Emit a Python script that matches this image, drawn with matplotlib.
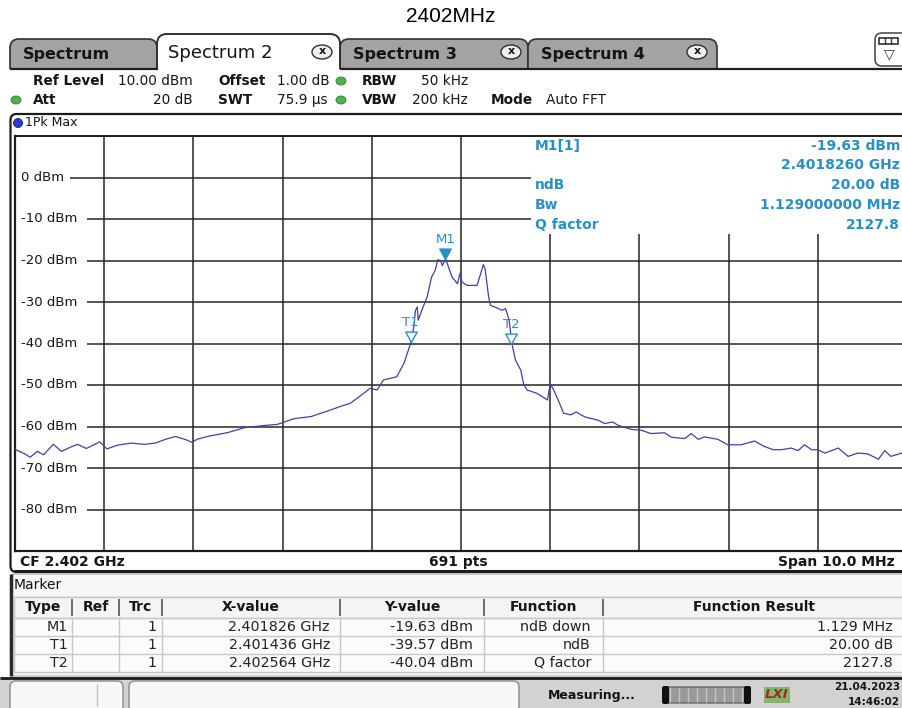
import matplotlib
matplotlib.use("Agg")
import matplotlib.pyplot as plt
from matplotlib.patches import Rectangle, FancyBboxPatch, Ellipse
import numpy as np

W, H = 902, 708

# ---------------- data ----------------
title = "2402MHz"
tab_names = ["Spectrum", "Spectrum 2", "Spectrum 3", "Spectrum 4"]

setting_labels = ["Ref Level", "Offset", "RBW", "Att", "SWT", "VBW", "Mode"]
setting_values = ["10.00 dBm", "1.00 dB", "50 kHz", "20 dB", "75.9 µs", "200 kHz", "Auto FFT"]
trace_label = "1Pk Max"

center_mhz = 2402.0
span_mhz = 10.0
ref_level_dbm = 10.0
db_per_div = 10.0
n_points = 691
y_tick_values = [0, -10, -20, -30, -40, -50, -60, -70, -80]

freq_mhz = [
    2397.00, 2397.10, 2397.17, 2397.25, 2397.32, 2397.43, 2397.52, 2397.62, 2397.70, 2397.80,
    2397.95, 2398.03, 2398.15, 2398.30, 2398.45, 2398.57, 2398.70, 2398.80, 2398.92, 2398.98,
    2399.05, 2399.20, 2399.38, 2399.57, 2399.77, 2399.94, 2400.13, 2400.32, 2400.50, 2400.67,
    2400.76, 2400.91, 2400.98, 2401.06, 2401.13, 2401.28, 2401.36, 2401.41, 2401.44, 2401.47,
    2401.49, 2401.51, 2401.52, 2401.56, 2401.62, 2401.67, 2401.71, 2401.74, 2401.77, 2401.79,
    2401.83, 2401.86, 2401.90, 2401.96, 2401.99, 2402.01, 2402.07, 2402.18, 2402.22, 2402.25,
    2402.27, 2402.31, 2402.33, 2402.40, 2402.46, 2402.50, 2402.54, 2402.57, 2402.61, 2402.67,
    2402.70, 2402.74, 2402.85, 2402.97, 2403.00, 2403.04, 2403.12, 2403.15, 2403.23, 2403.29,
    2403.39, 2403.54, 2403.61, 2403.70, 2403.76, 2403.91, 2404.02, 2404.13, 2404.28, 2404.36,
    2404.51, 2404.58, 2404.66, 2404.73, 2404.88, 2404.99, 2405.14, 2405.29, 2405.40, 2405.50,
    2405.59, 2405.70, 2405.78, 2405.85, 2405.93, 2406.00, 2406.08, 2406.23, 2406.34, 2406.45,
    2406.56, 2406.68, 2406.75, 2406.82, 2406.94, 2407.00,
]
level_dbm = [
    -65.5, -66.5, -67.4, -66.0, -66.8, -64.3, -66.0, -65.0, -64.3, -65.3,
    -63.7, -65.4, -64.5, -64.0, -64.3, -64.0, -63.0, -62.4, -63.2, -63.8,
    -63.0, -62.2, -61.5, -60.3, -59.8, -59.5, -58.1, -57.6, -56.3, -55.0,
    -54.4, -52.0, -50.8, -51.2, -48.8, -48.0, -44.8, -41.6, -39.6, -36.0,
    -32.0, -31.2, -34.4, -32.0, -28.8, -24.0, -22.4, -19.8, -20.0, -21.2,
    -19.63, -21.6, -24.0, -25.6, -23.0, -25.2, -26.0, -26.0, -23.2, -21.0,
    -22.0, -28.8, -30.8, -31.4, -32.0, -31.6, -34.4, -40.0, -44.0, -46.4,
    -49.6, -51.2, -52.0, -53.6, -49.8, -51.2, -55.2, -56.8, -57.2, -56.5,
    -57.7, -58.5, -59.3, -58.9, -59.7, -60.7, -60.9, -61.7, -61.5, -62.6,
    -62.9, -61.7, -63.1, -62.5, -63.1, -64.4, -64.4, -63.5, -64.8, -65.6,
    -65.6, -65.2, -65.8, -64.4, -65.6, -65.6, -66.4, -65.2, -67.2, -66.4,
    -66.6, -67.9, -65.8, -67.2, -66.4, -66.8,
]
assert len(freq_mhz) == len(level_dbm)

marker_names = ["M1", "T1", "T2"]
marker_freq_mhz = [2401.826, 2401.436, 2402.564]
marker_level_dbm = [-19.63, -39.57, -40.04]
marker_filled = [True, False, False]

info_labels = ["M1[1]", "", "ndB", "Bw", "Q factor"]
info_values = ["-19.63 dBm", "2.4018260 GHz", "20.00 dB", "1.129000000 MHz", "2127.8"]

table_header = ["Type", "Ref", "Trc", "X-value", "Y-value", "Function", "Function Result"]
table_rows = [
    ["M1", "", "1", "2.401826 GHz", "-19.63 dBm", "ndB down", "1.129 MHz"],
    ["T1", "", "1", "2.401436 GHz", "-39.57 dBm", "ndB", "20.00 dB"],
    ["T2", "", "1", "2.402564 GHz", "-40.04 dBm", "Q factor", "2127.8"],
]
status_text = "Measuring..."
date_text = "21.04.2023"
time_text = "14:46:02"

# ---------------- styling ----------------
FONT = "DejaVu Sans"
TXT = "#151515"
MK = "#2a8fc4"
TRACE = "#4040a8"
GRID = "#262626"

fig = plt.figure(figsize=(W / 100, H / 100), dpi=100)
fig.patch.set_facecolor("white")


def pix_axes(z):
    a = fig.add_axes([0, 0, 1, 1], zorder=z)
    a.set_xlim(0, W)
    a.set_ylim(H, 0)
    a.axis("off")
    a.patch.set_alpha(0)
    return a


bg = pix_axes(0)
fg = pix_axes(3)


def box(a, x0, y0, x1, y1, fc, ec="none", lw=1.0, r=0, z=1):
    if r > 0:
        p = FancyBboxPatch((x0, y0), x1 - x0, y1 - y0,
                           boxstyle=f"round,pad=0,rounding_size={r}",
                           fc=fc, ec=ec, lw=lw, zorder=z)
    else:
        p = Rectangle((x0, y0), x1 - x0, y1 - y0, fc=fc, ec=ec, lw=lw, zorder=z)
    a.add_patch(p)


def line(a, xs, ys, color=GRID, lw=1.0, z=2):
    a.plot(xs, ys, color=color, lw=lw, zorder=z, solid_capstyle="butt")


def T(a, x, y, s, size=9.5, weight="normal", ha="left", va="center",
      color=TXT, family=FONT, **kw):
    a.text(x, y, s, fontsize=size, fontweight=weight, ha=ha, va=va,
           color=color, family=family, **kw)


# ---------------- title ----------------
T(fg, 451, 17, title, size=15, ha="center", family="Liberation Sans", color="#000000")

# ---------------- tabs ----------------
tab_x = [(10, 157), (157, 340), (340, 528), (528, 717)]
tab_close = [None, 322, 511, 697]
for i, (x0, x1) in enumerate(tab_x):
    if i == 1:
        continue
    box(bg, x0, 39, x1, 85, fc="#a3a3a3", ec="#303030", lw=1.2, r=9, z=1)
box(bg, 157, 34, 340, 85, fc="white", ec="#303030", lw=1.4, r=10, z=1.5)
# header area (covers tab bottoms)
box(bg, 0, 69, W, 113, fc="white", z=2)
line(bg, [10, 157.5], [68.5, 68.5], "#202020", 1.6, 3)
line(bg, [339.5, W], [68.5, 68.5], "#202020", 1.6, 3)
for i, (x0, x1) in enumerate(tab_x):
    if i == 1:
        T(fg, 168, 53, tab_names[i], size=13, weight="normal")
    else:
        T(fg, x0 + 13, 54, tab_names[i], size=11.5, weight="bold")
    if tab_close[i] is not None:
        fg.add_patch(Ellipse((tab_close[i], 52), 20, 14, fc="#eeeeee", ec="#303030", lw=1.0, zorder=4))
        T(fg, tab_close[i], 51.5, "x", size=8, weight="bold", ha="center", zorder=5)
# menu icon at right
box(bg, 875, 33, 912, 66, fc="white", ec="#505050", lw=1.2, r=7, z=3)
box(fg, 879, 38, 898, 44, fc="white", ec="#303030", lw=1.2)
for xx in (885, 891):
    line(fg, [xx, xx], [38, 44], "#303030", 1.0, 5)
T(fg, 889, 54, "▽", size=10, ha="center", color="#303030")

# ---------------- settings header ----------------
lab_pos = [(33, 81), (218, 81), (362, 81), (33, 100), (218, 100), (362, 100), (491, 100)]
for (lx, ly), s in zip(lab_pos, setting_labels):
    T(fg, lx, ly, s, size=9.8, weight="bold")
val_pos = [(118, 81, "left"), (277, 81, "left"), (468, 81, "right"),
           (193, 100, "right"), (277, 100, "left"), (468, 100, "right"), (546, 100, "left")]
for (vx, vy, ha), s in zip(val_pos, setting_values):
    T(fg, vx, vy, s, size=9.8, ha=ha)
for (dx, dy) in [(341, 81), (16, 100), (341, 100)]:
    fg.add_patch(Ellipse((dx, dy), 10, 8, fc="#4fb04f", ec="#2f7f2f", lw=0.6, zorder=4))

# ---------------- main panel ----------------
box(bg, 10.5, 114, 915, 572, fc="white", ec="#1c1c1c", lw=1.6, r=6, z=4)
line(bg, [14, W], [571.2, 571.2], "#1c1c1c", 2.2, 5)
fg.add_patch(Ellipse((18, 123), 9, 9, fc="#2a3fcf", ec="#101a70", lw=0.6, zorder=4))
T(fg, 25, 123, trace_label, size=9)

ax = fig.add_axes([15 / W, 1 - 551 / H, 892 / W, (551 - 136) / H], zorder=1)
ax.set_facecolor("white")
ax.set_xlim(center_mhz - span_mhz / 2, center_mhz + span_mhz / 2)
ax.set_ylim(ref_level_dbm - 10 * db_per_div, ref_level_dbm)
ax.set_xticks(np.linspace(center_mhz - span_mhz / 2, center_mhz + span_mhz / 2, 11))
ax.set_yticks(np.arange(ref_level_dbm - 10 * db_per_div, ref_level_dbm + 1, db_per_div))
ax.tick_params(length=0, labelbottom=False, labelleft=False)
ax.set_axisbelow(True)
ax.grid(True, color=GRID, lw=1.1)
for side, lw in [("top", 1.4), ("left", 1.6), ("bottom", 1.6)]:
    ax.spines[side].set_color("#1c1c1c")
    ax.spines[side].set_linewidth(lw)
ax.spines["right"].set_visible(False)

x_left = center_mhz - span_mhz / 2
mhz_per_px = span_mhz / 892.0
db_per_px = 10 * db_per_div / 415.0
for v in y_tick_values:
    lab = f"{v} dBm"
    wpx = 8 + 8.4 * len(lab) + 5
    ax.add_patch(Rectangle((x_left, v - 7 * db_per_px), wpx * mhz_per_px, 14 * db_per_px,
                           fc="white", ec="none", zorder=1.5))
    ax.text(x_left + 6 * mhz_per_px, v, lab, fontsize=9.5, family=FONT, color=TXT,
            ha="left", va="center", zorder=1.6)

# marker info block (hides grid)
ax.add_patch(Rectangle(((531 - 15) / 892, (551 - 234) / 415), 1, 1, transform=ax.transAxes,
                       fc="white", ec="none", zorder=1.5))
info_y = [146, 165, 185, 205, 225]
for yy, lab, val in zip(info_y, info_labels, info_values):
    if lab:
        T(fg, 535, yy, lab, size=10, weight="bold", color=MK)
    T(fg, 900, yy, val, size=10, weight="bold", color=MK, ha="right")

# trace
ax.plot(freq_mhz, level_dbm, color=TRACE, lw=0.9, zorder=3)

# markers
tri = [(0, 0), (-0.55, 1), (0.55, 1), (0, 0)]
for name, f, l, filled in zip(marker_names, marker_freq_mhz, marker_level_dbm, marker_filled):
    ax.plot([f], [l], marker=tri, ms=15, mfc=MK if filled else "white", mec=MK,
            mew=1.0, zorder=5, linestyle="none")
    ax.annotate(name, (f, l), xytext=(0, 14), textcoords="offset points",
                ha="center", va="center", fontsize=9.5, family=FONT, color=MK, zorder=6)

# bottom info row
T(fg, 20, 562, f"CF {center_mhz / 1000:.3f} GHz", size=10, weight="bold")
T(fg, 458, 562, f"{n_points} pts", size=10, weight="bold", ha="center")
T(fg, 895, 562, f"Span {span_mhz:.1f} MHz", size=10, weight="bold", ha="right")

# ---------------- marker table ----------------
box(bg, 10.5, 574, 915, 676, fc="#f7f7f7", ec="#b8b8b8", lw=1.0, r=4, z=4)
line(bg, [11, 11], [574, 676], "#2a2a2a", 2.5, 5)
T(fg, 14, 585, "Marker", size=10)
col_x = [14, 72, 119, 162, 340, 484, 603, 905]
row_y = [597, 618, 636, 654, 672]
box(bg, 14, 597, 905, 672, fc="#fbfbfb", ec="#c4c4c4", lw=1.0, z=5)
box(bg, 14, 597, 905, 618, fc="#f4f4f4", ec="#c4c4c4", lw=1.0, z=5)
for yy in row_y[1:-1]:
    line(bg, [14, 905], [yy, yy], "#c8c8c8", 1.0, 6)
for xx in col_x[1:-1]:
    line(bg, [xx, xx], [618, 672], "#c8c8c8", 1.0, 6)
    line(bg, [xx, xx], [599, 616], "#6a6a6a", 1.4, 6)
for j, h in enumerate(table_header):
    T(fg, (col_x[j] + col_x[j + 1]) / 2, 607, h, size=10, weight="bold", ha="center")
pads = [4, 5, 5, 10, 11, 12, 12]
for i, row in enumerate(table_rows):
    yc = (row_y[i + 1] + row_y[i + 2]) / 2
    for j, s in enumerate(row):
        if s:
            T(fg, col_x[j + 1] - pads[j], yc, s, size=10.3, ha="right", color="#222222")

# ---------------- status bar ----------------
box(bg, 0, 677, W, H, fc="#d2d2d2", z=4)
line(bg, [0, W], [677.5, 677.5], "#1a1a1a", 2.0, 5)
box(bg, 10, 681, 123, 716, fc="#f8f8f8", ec="#8a8a8a", lw=1.0, r=6, z=5)
box(bg, 129, 681, 519, 716, fc="#f8f8f8", ec="#8a8a8a", lw=1.0, r=6, z=5)
line(bg, [97, 97], [684, 706], "#c0c0c0", 1.0, 6)
T(fg, 548, 695, status_text, size=9, weight="bold")
box(bg, 663, 687, 750, 703, fc="#9a9a9a", ec="#555555", lw=0.8, r=3, z=5)
for xx in np.linspace(670, 742, 9):
    line(bg, [xx, xx], [688, 702], "#c6c6c6", 1.0, 6)
box(bg, 662, 686, 669, 704, fc="#111111", r=2, z=7)
box(bg, 744, 686, 751, 704, fc="#111111", r=2, z=7)
T(fg, 777, 695, "LXI", size=9.5, weight="bold", style="italic", ha="center",
  color="#a42a2a", bbox=dict(fc="#86b56a", ec="none", pad=1.0))
T(fg, 900, 687, date_text, size=7.5, weight="bold", ha="right")
T(fg, 900, 702, time_text, size=7.5, weight="bold", ha="right")

fig.savefig("out.png", dpi=100, facecolor="white")
